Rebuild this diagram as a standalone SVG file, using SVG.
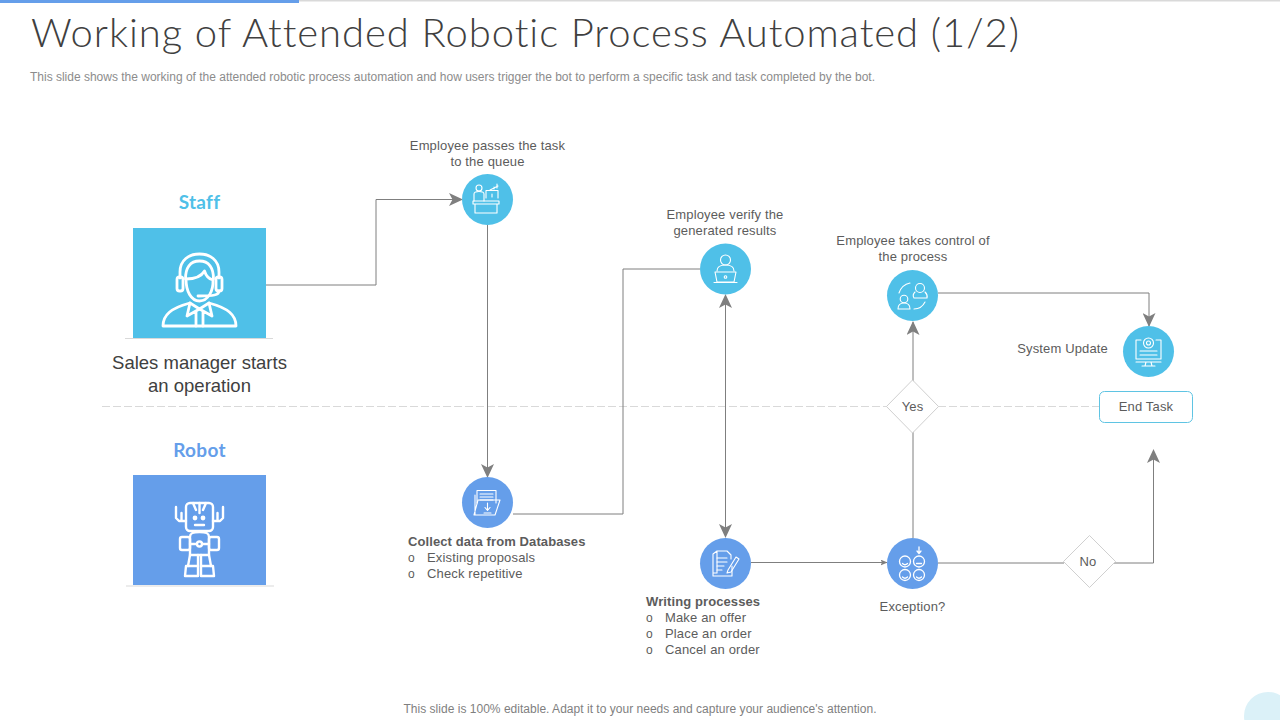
<svg xmlns="http://www.w3.org/2000/svg" width="1280" height="720" viewBox="0 0 1280 720">
<style>
text{font-family:"Liberation Sans",Arial,sans-serif;fill:#5c5c5c;font-size:13px;letter-spacing:.15px}
.c{text-anchor:middle}
.b{font-weight:bold;letter-spacing:.1px}
.conn{fill:none;stroke:#7f7f7f;stroke-width:1}
.ic{fill:none;stroke:#fff;stroke-width:1.1;stroke-linecap:round;stroke-linejoin:round}
.big{fill:none;stroke:#fff;stroke-width:2.8;stroke-linecap:round;stroke-linejoin:round}
.dia{fill:#fff;stroke:#d0d0d0;stroke-width:1}
.lt{fill:#4fc0e8}
.dk{fill:#659eea}
.head{font-family:"Lato","Liberation Sans",sans-serif;font-size:19px;font-weight:bold;text-anchor:middle;letter-spacing:.3px;font-variant-ligatures:none}
.base{stroke:#d9d9d9;stroke-width:1}
.lab18{font-size:18.5px;fill:#404040;letter-spacing:0}
</style>
<defs>
<marker id="arr" viewBox="0 0 14 13" refX="13" refY="6.500" markerWidth="14" markerHeight="13" markerUnits="userSpaceOnUse" orient="auto-start-reverse">
<path d="M0 0L14 6.500L0 13L3.500 6.500Z" fill="#7f7f7f"/>
</marker>
<marker id="arrS" viewBox="0 0 7 6" refX="6.500" refY="3" markerWidth="7" markerHeight="6" markerUnits="userSpaceOnUse" orient="auto">
<path d="M0 0L7 3L0 6L1.500 3Z" fill="#7f7f7f"/>
</marker>
</defs>
<rect width="1280" height="720" fill="#fff"/>
<g id="topbar"><rect y="0" width="1280" height="1.500" fill="#d9d9d9"/><rect width="299" height="3" fill="#659eea"/></g>
<circle id="corner" cx="1268" cy="716" r="24" fill="#dbf1f8"/>
<text id="title" x="31" y="47" textLength="988" lengthAdjust="spacing" style="font-family:Lato,'Liberation Sans',sans-serif;font-weight:300;font-size:40px;fill:#404040;font-variant-ligatures:none;letter-spacing:0">Working of Attended Robotic Process Automated (1/2)</text>
<text id="subtitle" x="30" y="80.500" textLength="845" style="font-size:12px;fill:#8c8c8c;letter-spacing:0">This slide shows the working of the attended robotic process automation and how users trigger the bot to perform a specific task and task completed by the bot.</text>
<text id="footer" x="640" y="713" class="c" textLength="473" style="font-size:12px;fill:#7f7f7f;letter-spacing:0">This slide is 100% editable. Adapt it to your needs and capture your audience's attention.</text>
<line id="divider" x1="102" y1="406.500" x2="1100" y2="406.500" stroke="#d9d9d9" stroke-width="1" stroke-dasharray="8 3"/>

<g id="connectors">
<path class="conn" d="M266 285H376V199.500H462" marker-end="url(#arr)"/>
<path class="conn" d="M487.500 225V477" marker-end="url(#arr)"/>
<path class="conn" d="M513 514H623V269H700"/>
<path class="conn" d="M725.500 295V537" marker-start="url(#arr)" marker-end="url(#arr)"/>
<path class="conn" d="M751 562.500H887" marker-end="url(#arrS)"/>
<path class="conn" d="M913 538V322" marker-end="url(#arr)"/>
<path class="conn" d="M938 293H1149V326" marker-end="url(#arr)"/>
<path class="conn" d="M938 563H1064"/>
<path class="conn" d="M1114 563H1153.500V450" marker-end="url(#arr)"/>
</g>

<g id="staff">
<text x="199.500" y="208.500" class="head" style="fill:#4fc0e8">Staff</text>
<rect x="133" y="228" width="133" height="110" class="lt"/>
<line x1="125" y1="338.500" x2="273" y2="338.500" class="base"/>
<g class="big">
<path d="M180 278V272C180 260 189 254 199.500 254C210 254 219 260 219 272V278"/>
<path d="M185.500 279C185.500 268 190 261 199.500 261C209 261 213.500 268 213.500 279"/>
<rect x="177" y="277" width="6" height="14" rx="2.500"/><rect x="216" y="277" width="6" height="14" rx="2.500"/>
<path d="M186 279C193 279 201 277 204.500 271C206 276 209 279 213 280C213.500 291 208 301 199.500 301C191 301 186 291 186 279Z"/>
<path d="M219 291C219 295 214 296 198 296"/>
<path d="M163 326C163 315 171 308 190 303L199.500 309L209 303C228 308 236 315 236 326Z"/>
<path d="M190 303L187 316L199.500 309L212 316L209 303M196 312V326M203 312V326"/>
</g>
<text x="199.500" y="369" class="c lab18">Sales manager starts</text>
<text x="199.500" y="392" class="c lab18">an operation</text>
</g>

<g id="robot">
<text x="199.500" y="456.500" class="head" style="fill:#659eea">Robot</text>
<rect x="133" y="475" width="133" height="110" class="dk"/>
<line x1="126" y1="586" x2="274" y2="586" class="base"/>
<g class="big" style="stroke-width:2.400">
<rect x="186" y="503" width="27" height="28" rx="4"/>
<path d="M193 503L196 510M199.500 503V513M206 503L203 510"/>
<circle cx="195" cy="518" r="1.200"/><circle cx="203" cy="518" r="1.200"/><path d="M195 525H204"/>
<path d="M176 507V518L179 521H186M181.500 513V521M223 507V518L220 521H213M217.500 513V521"/>
<path d="M190 537C190 533 193 532 199.500 532C206 532 209 533 209 537V555H190Z"/>
<circle cx="199.500" cy="544" r="2.500"/><path d="M190 544H197M202 544H209"/>
<rect x="180" y="537" width="10" height="13" rx="2"/><rect x="209" y="537" width="10" height="13" rx="2"/>
<path d="M190 555L188 566M198 555V566M201 555V566M209 555L211 566"/>
<path d="M186 566H198V576H185ZM201 566H213L214 576H201Z"/>
</g>
</g>

<g id="node-queue">
<circle cx="487.500" cy="199.500" r="25.500" class="lt"/>
<g class="ic">
<circle cx="479" cy="188" r="3"/><path d="M474 201V194C474 192 476 191.500 479 191.500C482 191.500 484 192 484 194V201"/>
<path d="M486 198V190.500H498V198M492 194V197"/>
<path d="M473 201H499V204H473ZM475 204V213H497V204"/>
<path d="M490 190L498 186M494 189V187M497 188V184"/>
</g>
<text x="487.500" y="149.500" class="c">Employee passes the task</text>
<text x="487.500" y="165.500" class="c">to the queue</text>
</g>

<g id="node-collect">
<circle cx="487.500" cy="502.500" r="25.500" class="dk"/>
<g class="ic">
<path d="M477 503V490.500H496V503"/><path d="M480 494H493M480 497H493M480 500H493"/>
<path d="M475 495V515H495L500 500H478L474 515"/>
<path d="M487.500 503V510M485 507.500L487.500 510.500L490 507.500M484 513H491"/>
</g>
<text x="408" y="545.500" class="b">Collect data from Databases</text>
<text x="408" y="561.500"><tspan style="font-size:12px">o</tspan><tspan x="427">Existing proposals</tspan></text>
<text x="408" y="577.500"><tspan style="font-size:12px">o</tspan><tspan x="427">Check repetitive</tspan></text>
</g>

<g id="node-verify">
<circle cx="725.500" cy="269" r="25.500" class="lt"/>
<g class="ic">
<circle cx="725.500" cy="260" r="5"/>
<path d="M717 271C717 266 721 265 725.500 265C730 265 734 266 734 271"/>
<path d="M715 272H736L734 282H717ZM714 282.500H737"/>
<circle cx="725.500" cy="277" r="1.300"/>
</g>
<text x="725" y="218.500" class="c">Employee verify the</text>
<text x="725" y="234.500" class="c">generated results</text>
</g>

<g id="node-writing">
<circle cx="725.500" cy="563.500" r="25.500" class="dk"/>
<g class="ic">
<path d="M717 551H727L731 555V559M717 551L713 554V576H732V566M717 551V573H713"/>
<path d="M717 558H727M717 562H727M717 566H724M717 570H722"/>
<path d="M728 570L736 557L739 559L731 572L727 573Z"/>
</g>
<text x="646" y="605.500" class="b">Writing processes</text>
<text x="646" y="621.500"><tspan style="font-size:12px">o</tspan><tspan x="665">Make an offer</tspan></text>
<text x="646" y="637.500"><tspan style="font-size:12px">o</tspan><tspan x="665">Place an order</tspan></text>
<text x="646" y="653.500"><tspan style="font-size:12px">o</tspan><tspan x="665">Cancel an order</tspan></text>
</g>

<g id="node-control">
<circle cx="912.500" cy="295.500" r="25.500" class="lt"/>
<g class="ic">
<circle cx="920" cy="288" r="4.500"/><path d="M915 292C912 295 914 298 914 298H927C927 298 928 295 925 292"/>
<circle cx="904" cy="299" r="3.800"/><path d="M898 309C898 304 901 303 904 303C907 303 910 304 910 309Z"/>
<path d="M899 293C901 287 905 284 910 283M925 302C923 306 919 309 914 309"/>
</g>
<text x="913" y="244.500" class="c">Employee takes control of</text>
<text x="913" y="260.500" class="c">the process</text>
</g>

<g id="node-exception">
<circle cx="912.500" cy="563.500" r="25.500" class="dk"/>
<g class="ic" style="stroke-width:1.300">
<circle cx="905" cy="561.500" r="5.500"/><circle cx="919" cy="561.500" r="5.500"/><circle cx="905" cy="575" r="5.500"/><circle cx="919" cy="575" r="5.500"/>
<path d="M919 547V553M917 551L919 553.500L921 551"/>
<path d="M902.500 563.500C904 565 906 565 907.500 563.500M916.500 563.500H921.500M902.500 577C904 578.500 906 578.500 907.500 577M916.500 577C918 578.500 920 578.500 921.500 577"/>
</g>
<text x="912.500" y="610.500" class="c">Exception?</text>
</g>

<g id="node-update">
<circle cx="1148.500" cy="351.500" r="25.500" class="lt"/>
<g class="ic">
<path d="M1141 340H1136V359H1161V340H1156"/>
<circle cx="1148.500" cy="343" r="5"/><circle cx="1148.500" cy="343" r="2"/>
<path d="M1140 351H1157M1140 355H1157M1136 362H1161M1146 362L1145 366H1152L1151 362M1142 366H1155"/>
</g>
<text x="1108" y="352.500" style="text-anchor:end">System Update</text>
</g>

<g id="decision-yes">
<path d="M912.500 380L938.500 406.500L912.500 433L886.500 406.500Z" class="dia"/>
<text x="912.500" y="410.500" class="c">Yes</text>
</g>
<g id="decision-no">
<path d="M1089.500 535.500L1115.500 561.500L1089.500 587.500L1063.500 561.500Z" class="dia"/>
<text x="1088" y="565.500" class="c">No</text>
</g>
<g id="end-task">
<rect x="1099.500" y="391.500" width="93" height="31" rx="5" fill="#fff" stroke="#5fc4e3" stroke-width="1"/>
<text x="1146" y="410.500" class="c">End Task</text>
</g>
</svg>
